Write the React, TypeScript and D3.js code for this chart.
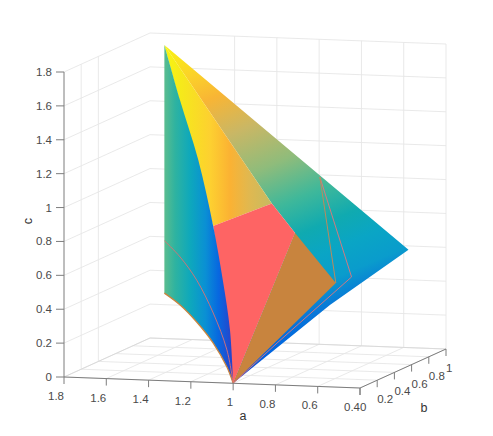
import React from "react";
import * as d3 from "d3";

type P = [number, number, number];

const S3 = Math.sqrt(3);
const aTicks = [1.8, 1.6, 1.4, 1.2, 1, 0.8, 0.6, 0.4];
const bTicks = [0, 0.2, 0.4, 0.6, 0.8, 1];
const cTicks = [0, 0.2, 0.4, 0.6, 0.8, 1, 1.2, 1.4, 1.6, 1.8];
const wallB = [0.2, 0.4];
const backA = [1.4, 1.2, 1, 0.8, 0.6, 0.4];

const origin: P = [1, 0, 0];
const apex: P = [S3, 1, S3];
const rightTip: P = [1 / S3, 1, 1 / S3];
const baseLeft: P = [S3, 1, 2 - S3];
const midLeft: P = [S3, 1, 1 / S3];
const v1: P = [1.212, 0.289, 0.852];
const v2: P = [1.061, 0.6, 0.92];
const v3: P = [0.992, 0.7, 0.726];
const v4: P = [0.86, 0.85, 0.4026];
const edgeMid: P = [0.827, 0.7, 0.309];
const lineTop: P = [0.956, 0.9, 1.012];
const lineBend: P = [0.806, 0.9, 0.4295];
const lineMid: P = [0.91, 0.3, 0.1775];

const bottomCurve: P[] = [origin, [1.066, 0.09, 0.072], [1.212, 0.29, 0.161], [1.388, 0.53, 0.222], [1.564, 0.77, 0.259], baseLeft];
const innerCurve: P[] = [origin, [1.066, 0.09, 0.173], [1.212, 0.29, 0.338], [1.388, 0.53, 0.469], [1.564, 0.77, 0.542], midLeft];
const upperCurve: P[] = [apex, [1.566, 0.773, 1.468], [1.371, 0.507, 1.184], v1, [1.11, 0.15, 0.57], [1.034, 0.047, 0.302], origin];

const leftStops: [number, string][] = [[0, "#5cbd8e"], [0.16, "#2fb3a0"], [0.38, "#0ea8bc"], [0.6, "#0a90d4"], [0.79, "#0868e0"], [1, "#2a40c8"]];
const yellowStops: [number, string][] = [[0, "#f9f510"], [0.15, "#f5ea1a"], [0.43, "#fdd030"], [0.61, "#fbb233"], [0.79, "#e0b850"], [1, "#c6bb62"]];
const topStops: [number, string][] = [[0, "#f9f510"], [0.12, "#fbd02a"], [0.2, "#f8b535"], [0.32, "#c9b765"], [0.45, "#8fbc7b"], [0.57, "#3fb89a"], [0.67, "#10aab0"], [0.75, "#0aa5c5"], [0.83, "#0a9ccc"], [0.9, "#0878d8"], [0.96, "#0064e0"], [1, "#2b3fc0"]];

const aX = d3.scaleLinear().domain([1.8, 0.4]).range([64, 360]);
const aY = d3.scaleLinear().domain([1.8, 0.4]).range([0, 11]);
const bX = d3.scaleLinear().domain([0, 1]).range([0, 86]);
const bY = d3.scaleLinear().domain([0, 1]).range([0, -39]);
const cY = d3.scaleLinear().domain([0, 1.8]).range([377, 72]);

const px = (p: P): [number, number] => [aX(p[0]) + bX(p[1]), aY(p[0]) + bY(p[1]) + cY(p[2])];
const straight = d3.line<P>().x((p) => px(p)[0]).y((p) => px(p)[1]);
const smooth = d3.line<P>().x((p) => px(p)[0]).y((p) => px(p)[1]).curve(d3.curveCatmullRom.alpha(0.5));
const cont = (s: string | null) => (s || "").replace(/^M/, "L");

const Grad = ({ id, stops, x1, y1, x2, y2 }: { id: string; stops: [number, string][]; x1: number; y1: number; x2: number; y2: number }) => (
  <linearGradient id={id} gradientUnits="userSpaceOnUse" x1={x1} y1={y1} x2={x2} y2={y2}>
    {stops.map(([o, c]) => <stop key={o} offset={o} stopColor={c} />)}
  </linearGradient>
);

const FONT = "'Liberation Sans', Arial, sans-serif";
const GRID = "#e6e6e6";
const AXIS = "#7d7d7d";
const TXT = "#4a4a4a";

const L = ({ a, b, stroke, w = 0.9 }: { a: P; b: P; stroke: string; w?: number }) => {
  const [x1, y1] = px(a);
  const [x2, y2] = px(b);
  return <line x1={x1} y1={y1} x2={x2} y2={y2} stroke={stroke} strokeWidth={w} />;
};

export default function App() {
  const leftPath = smooth(bottomCurve) + "L" + px(apex).join(",") + cont(smooth(upperCurve)) + "Z";
  const yellowPath = straight([apex, v1, v2])! + "Z";
  const redPath = straight([v1, origin, v3, v2])! + "Z";
  const topPath = straight([apex, rightTip, edgeMid, origin, v3, v2])! + "Z";
  const brownPath = straight([origin, v4, v3])! + "Z";
  const fmt = (v: number) => String(v);

  return (
    <svg width={493} height={436} style={{ position: "absolute", left: 0, top: 0 }} fontFamily={FONT}>
      <defs>
        <Grad id="leftG" stops={leftStops} x1={164} y1={0} x2={233} y2={0} />
        <Grad id="yellowG" stops={yellowStops} x1={164} y1={0} x2={272} y2={0} />
        <Grad id="topG" stops={topStops} x1={41} y1={97.5} x2={173.6} y2={409} />
      </defs>
      <rect width={493} height={436} fill="#fff" />

      {cTicks.filter((c) => c > 0).map((c) => (
        <g key={c}>
          <L a={[1.8, 0, c]} b={[1.8, 1, c]} stroke={GRID} />
          <L a={[1.8, 1, c]} b={[0.4, 1, c]} stroke={GRID} />
        </g>
      ))}
      {wallB.map((b) => <L key={b} a={[1.8, b, 0]} b={[1.8, b, 1.8]} stroke={GRID} />)}
      {backA.map((a) => <L key={a} a={[a, 1, 0]} b={[a, 1, 1.8]} stroke={GRID} />)}
      {aTicks.map((a) => <L key={a} a={[a, 0, 0]} b={[a, 1, 0]} stroke={GRID} />)}
      {bTicks.map((b) => <L key={b} a={[1.8, b, 0]} b={[0.4, b, 0]} stroke={GRID} />)}
      <L a={[1.8, 0, 0]} b={[1.8, 1, 0]} stroke="#d8d8d8" />
      <L a={[1.8, 1, 0]} b={[0.4, 1, 0]} stroke="#d8d8d8" />

      <path d={topPath} fill="url(#topG)" />
      <path d={yellowPath} fill="url(#yellowG)" />
      <path d={redPath} fill="#fe6464" />
      <path d={brownPath} fill="#c8843e" />
      <path d={leftPath} fill="url(#leftG)" />

      <path d={smooth(bottomCurve)!} fill="none" stroke="#c98540" strokeWidth={1.3} />
      <path d={smooth(innerCurve)!} fill="none" stroke="#dd7073" strokeWidth={0.9} />
      <path d={straight([origin, lineMid, lineBend, lineTop])!} fill="none" stroke="#e57579" strokeWidth={0.9} />
      <path d={straight([lineTop, v4])!} fill="none" stroke="#bb8a5e" strokeWidth={1} />

      <L a={[1.8, 0, 0]} b={[1.8, 0, 1.8]} stroke={AXIS} w={1} />
      <L a={[1.8, 0, 0]} b={[0.4, 0, 0]} stroke={AXIS} w={1} />
      <L a={[0.4, 0, 0]} b={[0.4, 1, 0]} stroke={AXIS} w={1} />

      {cTicks.map((c) => {
        const [x, y] = px([1.8, 0, c]);
        return (
          <g key={c}>
            <line x1={x - 8} x2={x} y1={y} y2={y} stroke={AXIS} />
            <text x={x - 12} y={y} textAnchor="end" dominantBaseline="central" fontSize={11.5} fill={TXT}>{fmt(c)}</text>
          </g>
        );
      })}
      {aTicks.map((a) => {
        const [x, y] = px([a, 0, 0]);
        return (
          <g key={a}>
            <line x1={x} x2={x} y1={y} y2={y + 7} stroke={AXIS} />
            <text x={x} y={y + 19} textAnchor="end" dominantBaseline="central" fontSize={11.5} fill={TXT}>{fmt(a)}</text>
          </g>
        );
      })}
      {bTicks.map((b) => {
        const [x, y] = px([0.4, b, 0]);
        return (
          <g key={b}>
            <line x1={x} x2={x} y1={y} y2={y + 7} stroke={AXIS} />
            <text x={x} y={y + 19} textAnchor="start" dominantBaseline="central" fontSize={11.5} fill={TXT}>{fmt(b)}</text>
          </g>
        );
      })}

      <text x={243} y={416} textAnchor="middle" dominantBaseline="central" fontSize={12.5} fill="#333">a</text>
      <text x={424} y={408} textAnchor="middle" dominantBaseline="central" fontSize={12.5} fill="#333">b</text>
      <text transform="translate(28,221) rotate(-90)" textAnchor="middle" dominantBaseline="central" fontSize={12.5} fill="#333">c</text>
    </svg>
  );
}
